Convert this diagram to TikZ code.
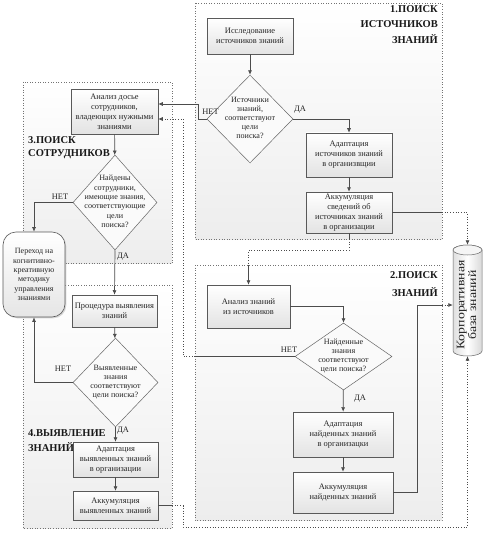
\documentclass[tikz,border=0pt]{standalone}
\usepackage{fontspec}
\setmainfont{Liberation Serif}
\usetikzlibrary{arrows.meta,shapes.geometric,shadows}
\begin{document}
\begin{tikzpicture}[x=1pt,y=-1pt,
 panel/.style={draw=black!55, dotted, line width=0.6pt, top color=white, bottom color=gray!14},
 box/.style={draw=black!65, line width=0.5pt, top color=white, bottom color=gray!22,
   drop shadow={shadow xshift=1.3pt,shadow yshift=-1.3pt,fill=black!30,opacity=0.5},
   align=center, inner sep=1pt, text=black!85, font=\fontsize{8.4}{10}\selectfont},
 dia/.style={diamond, draw=black!60, line width=0.5pt, fill=gray!4, inner sep=0pt},
 dtext/.style={align=center, inner sep=0pt, text=black!85, font=\fontsize{8.1}{9}\selectfont},
 lbl/.style={inner sep=0pt, text=black!85, font=\fontsize{8.4}{9}\selectfont},
 ttl/.style={inner sep=0pt, text=black!90, font=\bfseries\fontsize{10.5}{15.5}\selectfont},
 term/.style={draw=black!65, line width=0.6pt, rounded corners=13pt, top color=white, bottom color=gray!20,
   drop shadow={shadow xshift=1.3pt,shadow yshift=-1.3pt,fill=black!30,opacity=0.5},
   align=center, inner sep=0pt, text=black!85, font=\fontsize{8}{9.3}\selectfont},
 con/.style={draw=black!70, line width=0.7pt},
 dcon/.style={draw=black!70, line width=0.7pt, dotted},
 tip/.style={-{Latex[length=4.5pt,width=4pt]}},
]
\fill[white] (0,0) rectangle (485,540);
\useasboundingbox (0,0) rectangle (485,540);

% panels
\path[panel] (195,3) rectangle (442,239);
\path[panel] (195,265) rectangle (442,520);
\path[panel] (23,82) rectangle (172,263);
\path[panel] (23,285) rectangle (172,528);

% titles
\node[ttl, anchor=north east, align=right] (t1) at (438,5) {1.ПОИСК\\ИСТОЧНИКОВ\\ЗНАНИЙ};
\node[ttl, anchor=north east, align=right, font=\bfseries\fontsize{10.5}{18.5}\selectfont] (t2) at (438,271) {2.ПОИСК\\ЗНАНИЙ};
\node[ttl, anchor=north west, align=left, font=\bfseries\fontsize{10.5}{13}\selectfont] (t3) at (28,136) {3.ПОИСК\\СОТРУДНИКОВ};
\node[ttl, anchor=north west, align=left, font=\bfseries\fontsize{10.5}{15}\selectfont] (t4) at (28,429) {4.ВЫЯВЛЕНИЕ\\ЗНАНИЙ};

% panel 1 nodes
\node[box, minimum width=86pt, minimum height=36pt] (b1) at (250,36) {Исследование\\источников знаний};
\node[dia, minimum width=86pt, minimum height=88pt] (d1) at (250,119) {};
\node[dtext] (d1t) at (250,118) {Источники\\знаний,\\соответствуют\\цели\\поиска?};
\node[box, minimum width=86pt, minimum height=44pt] (b2) at (349,155) {Адаптация\\источников знаний\\в организвщии};
\node[box, minimum width=86pt, minimum height=41pt] (b3) at (349,212.5) {Аккумуляция\\сведений об\\источниках знаний\\в организации};

% panel 3 nodes
\node[box, minimum width=87pt, minimum height=45pt] (b4) at (114.5,111.5) {Анализ досье\\сотрудников,\\владеющих нужными\\знаниями};
\node[dia, minimum width=84pt, minimum height=95pt] (d3) at (115,202.5) {};
\node[dtext, font=\fontsize{8.1}{9.3}\selectfont] (d3t) at (115,201.5) {Найдены\\сотрудники,\\имеющие знания,\\соответствующие\\цели\\поиска?};

% terminal
\node[term, minimum width=62pt, minimum height=85pt] (term) at (34,274.5) {Переход на\\когнитивно-\\креативную\\методику\\управления\\знаниями};

% panel 4 nodes
\node[box, minimum width=85pt, minimum height=32pt] (b5) at (114.5,311) {Процедура выявления\\знаний};
\node[dia, minimum width=85pt, minimum height=89pt] (d4) at (115.5,382.5) {};
\node[dtext] (d4t) at (115.5,382) {Выявленные\\знания\\соответствуют\\цели поиска?};
\node[box, minimum width=85pt, minimum height=35pt] (b6) at (115.5,459.5) {Адаптация\\выявленных знаний\\в организации};
\node[box, minimum width=85pt, minimum height=29pt] (b7) at (115.5,505.5) {Аккумуляция\\выявленных знаний};

% panel 2 nodes
\node[box, minimum width=83pt, minimum height=43pt] (b8) at (248.5,306.5) {Анализ знаний\\из источников};
\node[dia, minimum width=97pt, minimum height=67pt] (d2) at (343.5,356.5) {};
\node[dtext] (d2t) at (343.5,356) {Найденные\\знания\\соответствуют\\цели поиска?};
\node[box, minimum width=100pt, minimum height=45pt] (b9) at (343,434.5) {Адаптация\\найденных знаний\\в организацки};
\node[box, minimum width=100pt, minimum height=41pt] (b10) at (343,492.5) {Аккумуляция\\найденных знаний};

% cylinder
\node[minimum width=29pt, minimum height=111pt, inner sep=0pt] (cyl) at (467.5,300.5) {};
\path[draw=black!60, line width=0.5pt, left color=gray!25, right color=gray!30, middle color=white]
  (453,250) -- (453,351) arc[start angle=180,end angle=360,x radius=14.5pt,y radius=5pt]
  -- (482,250) arc[start angle=0,end angle=180,x radius=14.5pt,y radius=5pt] -- cycle;
\draw[black!60, line width=0.5pt, fill=gray!8] (467.5,250) ellipse[x radius=14.5pt, y radius=5pt];
\node[rotate=90, xscale=1.2, align=center, inner sep=0pt, text=black!85, font=\fontsize{11.5}{9.5}\selectfont] (cylt) at (466.5,305) {Корпоративная\\база знаний};

% helper coordinates
\coordinate (c104) at (0,104);
\coordinate (c119) at (0,119);
\coordinate (c305) at (0,305);
\coordinate (k1a) at (198,119);
\coordinate (k5a) at (349,239);
\coordinate (k5b) at (349,250);
\coordinate (k5c) at (248.5,250);
\coordinate (k5d) at (248.5,265);
\coordinate (k6a) at (442,212.5);
\coordinate (k8a) at (195,356.5);
\coordinate (k8b) at (183,356.5);
\coordinate (k11a) at (417,492.5);
\coordinate (k11b) at (442,305);
\coordinate (k12a) at (172,505.5);
\coordinate (k12b) at (183,505.5);
\coordinate (k12c) at (183,527);

% connectors panel 1
\draw[con, tip] (b1) -- (d1);
\draw[con, tip] (d1.east) -| (b2.north);
\draw[con, tip] (b2) -- (b3);
\draw[con, tip] (d1.west) -- (k1a) |- (b4.east |- c104);
\draw[con] (b3.south) -- (k5a);
\draw[dcon] (k5a) -- (k5b) -- (k5c) -- (k5d);
\draw[con, tip] (k5d) -- (b8.north);
\draw[con] (b3.east) -- (k6a);
\draw[dcon, tip] (k6a) -| (cyl.north);

% connectors panel 2
\draw[con, tip] (b8.east) -| (d2.north);
\draw[con, tip] (d2) -- (b9);
\draw[con, tip] (b9) -- (b10);
\draw[con] (d2.west) -- (k8a);
\draw[dcon, tip] (k8a) -- (k8b) |- (b4.east |- c119);
\draw[con] (b10.east) -- (k11a) |- (k11b);
\draw[dcon, tip] (k11b) -- (cyl.west |- c305);

% connectors panel 3 / 4
\draw[con, tip] (b4) -- (d3);
\draw[con, tip] (d3.west) -| (term.north);
\draw[con, tip] (d3.south) -- (b5.north);
\draw[con, tip] (b5) -- (d4);
\draw[con, tip] (d4.west) -| (term.south);
\draw[con, tip] (d4.south) -- (b6.north);
\draw[con, tip] (b6) -- (b7);
\draw[con] (b7.east) -- (k12a);
\draw[dcon, tip] (k12a) -- (k12b) -- (k12c) -| (cyl.south);

% labels
\node[lbl] (l1n) at (210.5,111.5) {НЕТ};
\node[lbl] (l1d) at (300,110) {ДА};
\node[lbl] (l2n) at (289,350) {НЕТ};
\node[lbl] (l2d) at (360,399) {ДА};
\node[lbl] (l3n) at (60,196.5) {НЕТ};
\node[lbl] (l3d) at (123,257) {ДА};
\node[lbl] (l4n) at (63,369) {НЕТ};
\node[lbl] (l4d) at (123,431) {ДА};
\end{tikzpicture}
\end{document}
